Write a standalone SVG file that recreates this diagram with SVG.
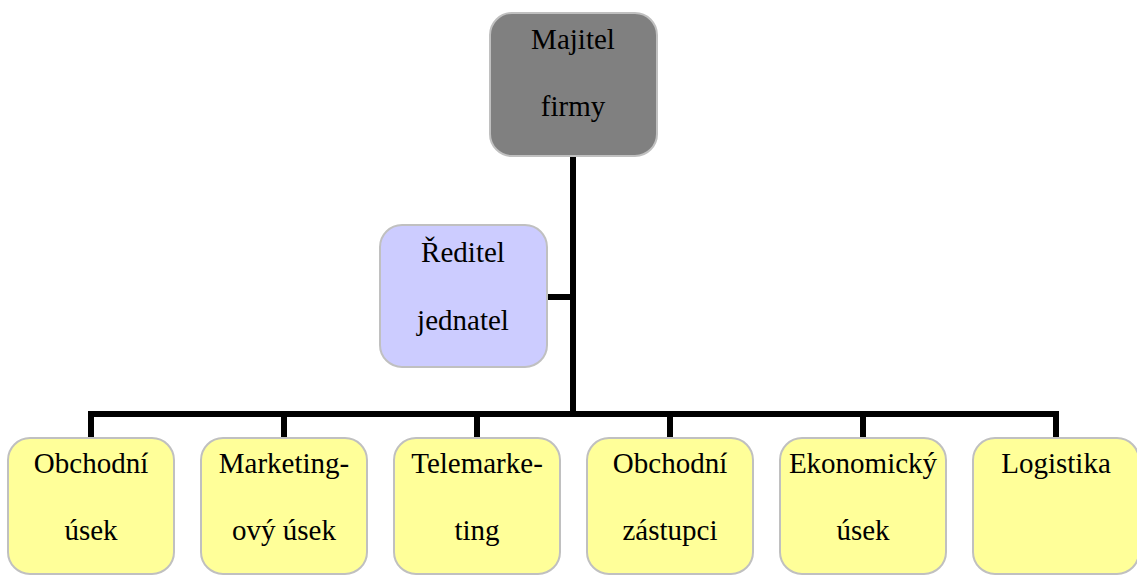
<svg xmlns="http://www.w3.org/2000/svg" width="1137" height="575" viewBox="0 0 1137 575">
<defs>
<rect id="ybox" width="166" height="136" rx="22" fill="#ffff99" stroke="#c0c0c0" stroke-width="2"/>
</defs>
<rect width="1137" height="575" fill="#fff"/>
<g id="connectors" stroke="#000" stroke-width="6" fill="none">
<line x1="573" y1="156" x2="573" y2="417"/>
<line x1="547" y1="297" x2="573" y2="297"/>
<polyline points="91,439 91,414 1056,414 1056,439"/>
<line x1="284" y1="414" x2="284" y2="439"/>
<line x1="477" y1="414" x2="477" y2="439"/>
<line x1="670" y1="414" x2="670" y2="439"/>
<line x1="863" y1="414" x2="863" y2="439"/>
</g>
<g id="majitel">
<rect x="490" y="13" width="167" height="143" rx="22" fill="#808080" stroke="#c0c0c0" stroke-width="2"/>
<text x="573" y="49" font-family="'Liberation Serif'" font-size="29" text-anchor="middle">Majitel</text>
<text x="573" y="116" font-family="'Liberation Serif'" font-size="29" text-anchor="middle">firmy</text>
</g>
<g id="reditel">
<rect x="380" y="225" width="167" height="142" rx="22" fill="#ccccff" stroke="#c0c0c0" stroke-width="2"/>
<text x="463" y="262" font-family="'Liberation Serif'" font-size="29" text-anchor="middle">Ředitel</text>
<text x="463" y="330" font-family="'Liberation Serif'" font-size="29" text-anchor="middle">jednatel</text>
</g>
<g id="obchodni-usek">
<use href="#ybox" x="8" y="438"/>
<text x="91" y="473" font-family="'Liberation Serif'" font-size="29" text-anchor="middle">Obchodní</text>
<text x="91" y="540" font-family="'Liberation Serif'" font-size="29" text-anchor="middle">úsek</text>
</g>
<g id="marketingovy-usek">
<use href="#ybox" x="201" y="438"/>
<text x="284" y="473" font-family="'Liberation Serif'" font-size="29" text-anchor="middle">Marketing-</text>
<text x="284" y="540" font-family="'Liberation Serif'" font-size="29" text-anchor="middle">ový úsek</text>
</g>
<g id="telemarketing">
<use href="#ybox" x="394" y="438"/>
<text x="477" y="473" font-family="'Liberation Serif'" font-size="29" text-anchor="middle">Telemarke-</text>
<text x="477" y="540" font-family="'Liberation Serif'" font-size="29" text-anchor="middle">ting</text>
</g>
<g id="obchodni-zastupci">
<use href="#ybox" x="587" y="438"/>
<text x="670" y="473" font-family="'Liberation Serif'" font-size="29" text-anchor="middle">Obchodní</text>
<text x="670" y="540" font-family="'Liberation Serif'" font-size="29" text-anchor="middle">zástupci</text>
</g>
<g id="ekonomicky-usek">
<use href="#ybox" x="780" y="438"/>
<text x="863" y="473" font-family="'Liberation Serif'" font-size="29" text-anchor="middle">Ekonomický</text>
<text x="863" y="540" font-family="'Liberation Serif'" font-size="29" text-anchor="middle">úsek</text>
</g>
<g id="logistika">
<use href="#ybox" x="973" y="438"/>
<text x="1056" y="473" font-family="'Liberation Serif'" font-size="29" text-anchor="middle">Logistika</text>
</g>
</svg>
